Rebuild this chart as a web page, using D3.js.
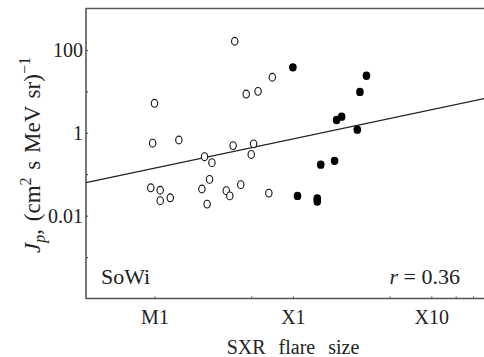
<!DOCTYPE html>
<html>
<head>
<meta charset="utf-8">
<script src="https://cdn.jsdelivr.net/npm/d3@7"></script>
<style>
  html, body { margin: 0; padding: 0; background: #fff; }
  svg { display: block; }
</style>
</head>
<body>
<svg id="chart" width="484" height="357"></svg>
<script>
// Peak proton flux vs. soft X-ray flare class (flux in W/m^2)
// Events from flares below X1 class (open symbols)
const weakFlux = [3.8e-5, 1.0e-5, 0.97e-5, 1.5e-5, 4.6e-5, 5.6e-5, 7.1e-5,
                  2.3e-5, 2.6e-5, 3.7e-5, 5.2e-5, 5.0e-5,
                  0.94e-5, 1.1e-5, 1.1e-5, 1.3e-5, 2.2e-5, 2.5e-5, 2.4e-5,
                  3.3e-5, 3.5e-5, 4.2e-5, 6.7e-5];
const weakJp   = [162, 5.15, 0.56, 0.67, 8.6, 10, 21.9,
                  0.265, 0.19, 0.49, 0.54, 0.30,
                  0.047, 0.041, 0.023, 0.027, 0.044, 0.075, 0.019,
                  0.040, 0.030, 0.056, 0.035];
// Events from X-class flares (filled symbols)
const strongFlux = [1.0e-4, 3.4e-4, 3.05e-4, 2.07e-4, 2.25e-4, 2.92e-4,
                    1.59e-4, 2.0e-4, 1.08e-4, 1.5e-4, 1.5e-4];
const strongJp   = [38, 23.9, 9.7, 2.04, 2.45, 1.19,
                    0.17, 0.21, 0.030, 0.026, 0.022];

// Log-log regression: log10(Jp) = fitAtX1 + fitSlope * (log10(F) + 4)
const fitSlope = 0.705;
const fitAtX1 = -0.15;
const corrText = "0.36";

// Axis ticks
const xTicks = [1e-5, 5e-5, 1e-4, 5e-4, 1e-3, 1.5e-3, 2e-3];
const xTickLabels = new Map([[1e-5, "M1"], [1e-4, "X1"], [1e-3, "X10"]]);
const yTicks = [1e-3, 1e-2, 1e-1, 1, 10, 100];
const yTickLabels = new Map([[100, "100"], [1, "1"], [1e-2, "0.01"]]);

const SERIF = "'Liberation Serif', 'Times New Roman', 'DejaVu Serif', serif";
const INK = "#222";

const svg = d3.select("#chart");
const plotLeft = 86, plotRight = 491, plotTop = 8.5, plotBottom = 298.5;

const x = d3.scaleLog().domain([3.2e-6, 2.7e-3]).range([plotLeft, plotRight]);
const y = d3.scaleLog().domain([1e-4, 1e3]).range([plotBottom, plotTop]);

function serif(sel, size) {
  return sel.attr("font-family", null)
    .style("font-family", SERIF).style("font-size", size + "px").style("fill", INK);
}

// Bottom axis with short inward ticks
const xAxis = svg.append("g")
  .attr("transform", `translate(0,${plotBottom})`)
  .call(d3.axisBottom(x).tickValues(xTicks).tickSizeInner(-2).tickSizeOuter(0)
        .tickFormat(d => xTickLabels.get(d) || ""));
xAxis.attr("font-family", null).attr("font-size", null);
xAxis.select(".domain").remove();
xAxis.selectAll(".tick line").attr("stroke", "#333").attr("stroke-width", 1);
serif(xAxis.selectAll(".tick text").attr("y", 25.5).attr("dy", 0), 20);

// Left axis
const yAxis = svg.append("g")
  .attr("transform", `translate(${plotLeft},0)`)
  .call(d3.axisLeft(y).tickValues(yTicks).tickSizeInner(-2).tickSizeOuter(0)
        .tickFormat(d => yTickLabels.get(d) || ""));
yAxis.attr("font-family", null).attr("font-size", null);
yAxis.select(".domain").remove();
yAxis.selectAll(".tick line").attr("stroke", "#333").attr("stroke-width", 1);
serif(yAxis.selectAll(".tick text").attr("x", -3).attr("dy", "0.34em"), 20);

// Frame (top, left, bottom)
svg.append("path")
  .attr("d", `M${plotRight},${plotTop}H${plotLeft}V${plotBottom}H${plotRight}`)
  .attr("fill", "none").attr("stroke", "#555").attr("stroke-width", 1.6);

// Regression line across the plot
const lx0 = Math.log10(x.domain()[0]), lx1 = Math.log10(x.domain()[1]);
const fitPts = [lx0, lx1].map(l => [Math.pow(10, l), Math.pow(10, fitAtX1 + fitSlope * (l + 4))]);
svg.append("line")
  .attr("x1", x(fitPts[0][0])).attr("y1", y(fitPts[0][1]))
  .attr("x2", x(fitPts[1][0])).attr("y2", y(fitPts[1][1]))
  .attr("stroke", "#222").attr("stroke-width", 1.3);

// Markers
svg.append("g").selectAll("ellipse")
  .data(d3.zip(weakFlux, weakJp))
  .join("ellipse")
  .attr("cx", d => x(d[0])).attr("cy", d => y(d[1]))
  .attr("rx", 3.2).attr("ry", 3.9)
  .attr("fill", "#fff").attr("stroke", "#111").attr("stroke-width", 1.1);

svg.append("g").selectAll("ellipse")
  .data(d3.zip(strongFlux, strongJp))
  .join("ellipse")
  .attr("cx", d => x(d[0])).attr("cy", d => y(d[1]))
  .attr("rx", 3.8).attr("ry", 4.2)
  .attr("fill", "#000");

// Panel annotations
serif(svg.append("text").attr("x", 101).attr("y", 284), 22).text("SoWi");

const rText = serif(svg.append("text").attr("x", 460).attr("y", 284)
  .attr("text-anchor", "end"), 22);
rText.append("tspan").style("font-style", "italic").text("r");
rText.append("tspan").text(" = " + corrText);

// Axis titles
serif(svg.append("text").attr("x", 293).attr("y", 354)
  .attr("text-anchor", "middle"), 20).style("word-spacing", "8px")
  .text("SXR flare size");

const yt = serif(svg.append("text")
  .attr("transform", "translate(40,155) rotate(-90)")
  .attr("text-anchor", "middle"), 23).style("word-spacing", "2px");
yt.append("tspan").style("font-style", "italic").text("J");
yt.append("tspan").style("font-style", "italic").style("font-size", "16px").attr("dy", 5).text("p");
yt.append("tspan").attr("dy", -5).text(", (cm");
yt.append("tspan").style("font-size", "16px").attr("dy", -9).text("2");
yt.append("tspan").attr("dy", 9).text(" s MeV sr)");
yt.append("tspan").style("font-size", "16px").attr("dy", -10).text("\u22121");
</script>
</body>
</html>
